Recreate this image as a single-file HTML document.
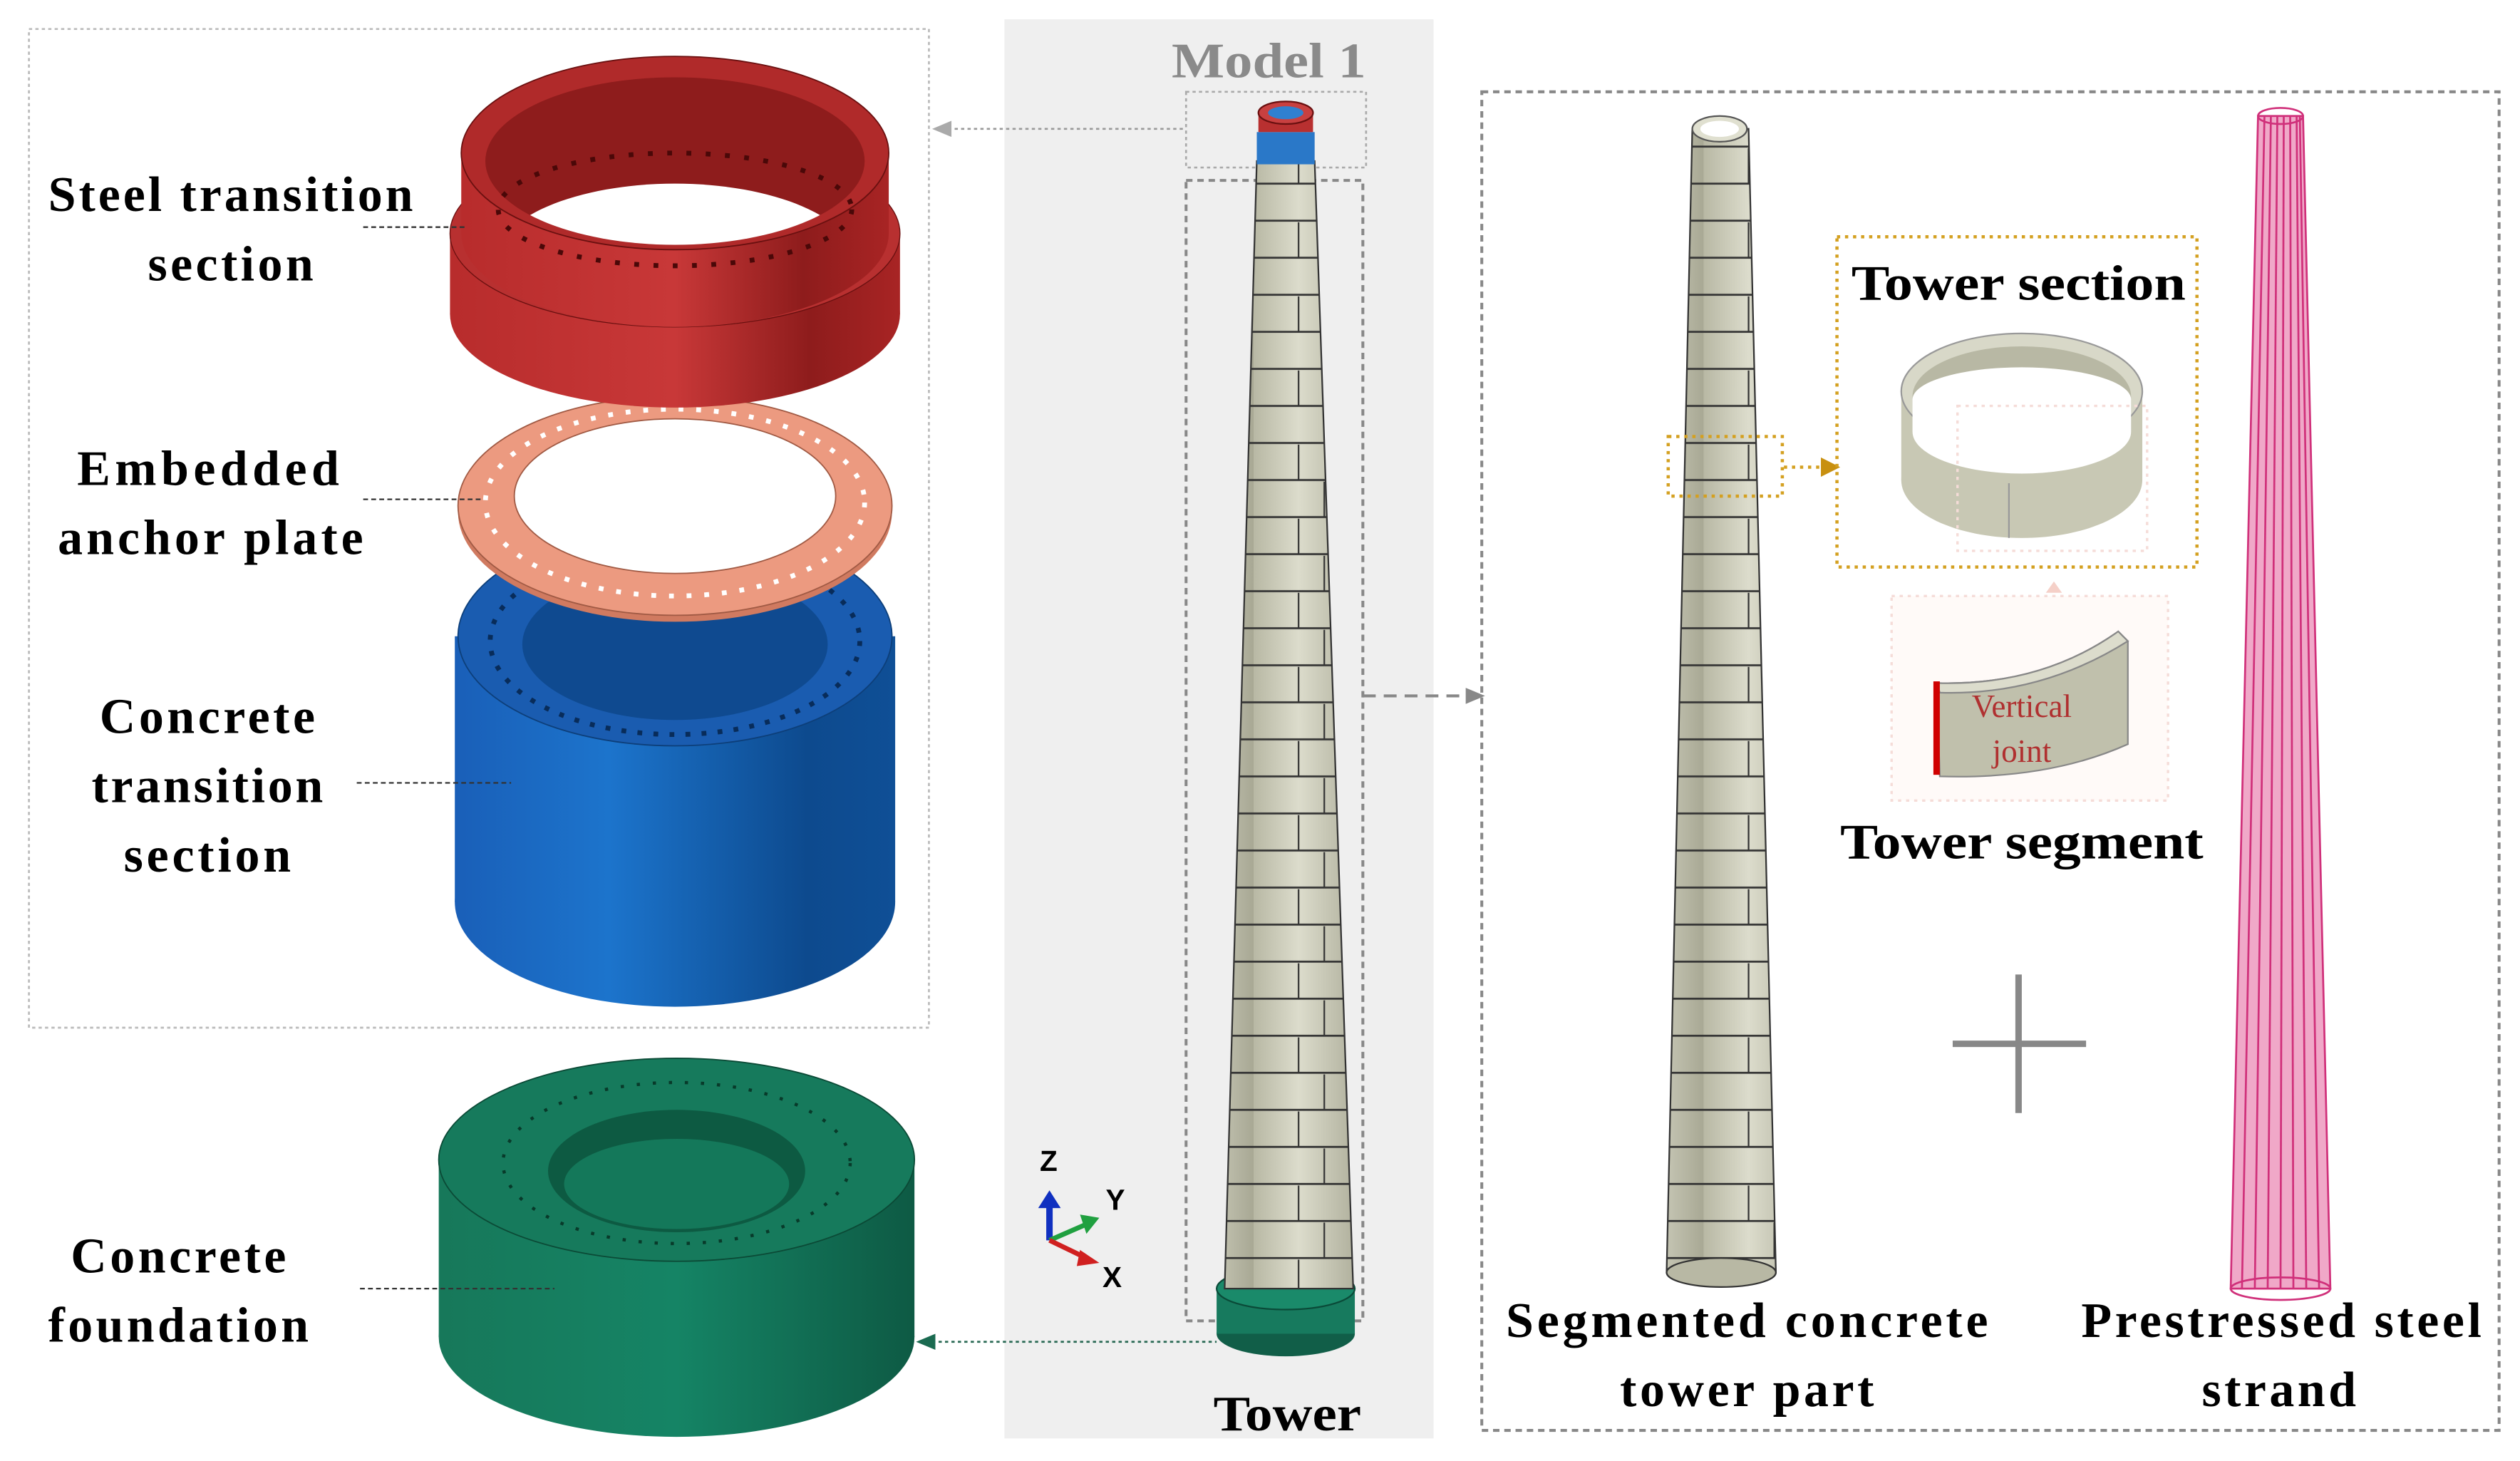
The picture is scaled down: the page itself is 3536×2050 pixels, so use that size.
<!DOCTYPE html>
<html><head><meta charset="utf-8"><style>
html,body{margin:0;padding:0;background:#fff;}
svg{display:block;}
text{font-family:"Liberation Serif",serif;font-weight:bold;fill:#000;}
</style></head><body>
<svg width="3536" height="2050" viewBox="0 0 1568 907" preserveAspectRatio="none" xmlns="http://www.w3.org/2000/svg">
<defs>
<linearGradient id="red" x1="0" x2="1"><stop offset="0" stop-color="#b82c2c"/><stop offset="0.5" stop-color="#c83838"/><stop offset="0.8" stop-color="#8e1c1c"/><stop offset="1" stop-color="#a82424"/></linearGradient>
<linearGradient id="blue" x1="0" x2="1"><stop offset="0" stop-color="#1a5fb8"/><stop offset="0.35" stop-color="#1c74cc"/><stop offset="0.8" stop-color="#0d4a8e"/><stop offset="1" stop-color="#0f4f96"/></linearGradient>
<linearGradient id="green" x1="0" x2="1"><stop offset="0" stop-color="#17785a"/><stop offset="0.5" stop-color="#158465"/><stop offset="1" stop-color="#0e5a44"/></linearGradient>
<linearGradient id="conc" x1="0" x2="1"><stop offset="0" stop-color="#b8b8a4"/><stop offset="0.4" stop-color="#dcdccc"/><stop offset="1" stop-color="#a8a894"/></linearGradient>
<pattern id="bricks" width="70" height="46" patternUnits="userSpaceOnUse" x="10">
<rect width="70" height="46" fill="url(#conc)"/>
<line x1="0" y1="22" x2="70" y2="22" stroke="#333" stroke-width="1.2"/>
<line x1="0" y1="45" x2="70" y2="45" stroke="#333" stroke-width="1.2"/>
<line x1="28" y1="0" x2="28" y2="22" stroke="#333" stroke-width="1"/>
<line x1="44" y1="23" x2="44" y2="45" stroke="#333" stroke-width="1"/>
</pattern>
<clipPath id="redIn"><ellipse cx="420" cy="100" rx="118" ry="52"/></clipPath>
</defs>

<rect x="18" y="18" width="560" height="620" fill="none" stroke="#bbb" stroke-width="1.2" stroke-dasharray="2,2"/>

<ellipse cx="420" cy="560" rx="137" ry="65" fill="url(#blue)"/>
<rect x="283" y="395" width="274" height="165" fill="url(#blue)"/>
<ellipse cx="420" cy="395" rx="135" ry="68" fill="#1a5cb0" stroke="#0d3f7a" stroke-width="0.8"/>
<ellipse cx="420" cy="400" rx="95" ry="47" fill="#0f4a90"/>
<ellipse cx="420" cy="398" rx="115" ry="58" fill="none" stroke="#082c5a" stroke-width="3" stroke-dasharray="3,7"/>

<ellipse cx="420" cy="318" rx="135" ry="68" fill="#d07a60"/>
<ellipse cx="420" cy="314" rx="135" ry="68" fill="#ec9a80" stroke="#a05a44" stroke-width="0.8"/>
<ellipse cx="420" cy="308" rx="100" ry="48" fill="#fff" stroke="#a05a44" stroke-width="0.8"/>
<ellipse cx="420" cy="312" rx="118" ry="58" fill="none" stroke="#fff" stroke-width="3" stroke-dasharray="3,8"/>

<ellipse cx="420" cy="195" rx="140" ry="58" fill="url(#red)"/>
<rect x="280" y="145" width="280" height="50" fill="url(#red)"/>
<ellipse cx="420" cy="145" rx="140" ry="58" fill="#b83030" stroke="#6a1010" stroke-width="0.6"/>
<path d="M287,95 L287,145 A133,58 0 0 0 553,145 L553,95 Z" fill="url(#red)"/>
<ellipse cx="420" cy="95" rx="133" ry="60" fill="#b02a2a" stroke="#6a1010" stroke-width="0.8"/>
<ellipse cx="420" cy="100" rx="118" ry="52" fill="#8e1c1c"/>
<ellipse cx="420" cy="162" rx="112" ry="48" fill="#fff" clip-path="url(#redIn)"/>
<ellipse cx="420" cy="130" rx="110" ry="35" fill="none" stroke="#4a0808" stroke-width="3" stroke-dasharray="3,9"/>

<ellipse cx="421" cy="830" rx="148" ry="62" fill="url(#green)"/>
<rect x="273" y="720" width="296" height="110" fill="url(#green)"/>
<ellipse cx="421" cy="720" rx="148" ry="63" fill="#167a5c" stroke="#0b4a36" stroke-width="0.8"/>
<ellipse cx="421" cy="727" rx="80" ry="38" fill="#0d5a42"/>
<ellipse cx="421" cy="735" rx="70" ry="28" fill="#14785a"/>
<ellipse cx="421" cy="722" rx="108" ry="50" fill="none" stroke="#083a2a" stroke-width="2" stroke-dasharray="2,8"/>

<g font-size="31" lengthAdjust="spacingAndGlyphs">
<text x="30" y="131" textLength="227">Steel transition</text>
<text x="92" y="174" textLength="103">section</text>
<text x="48" y="301" textLength="163">Embedded</text>
<text x="36" y="344" textLength="190">anchor plate</text>
<text x="62" y="455" textLength="134">Concrete</text>
<text x="57" y="498" textLength="144">transition</text>
<text x="77" y="541" textLength="104">section</text>
<text x="44" y="790" textLength="134">Concrete</text>
<text x="30" y="833" textLength="162">foundation</text>
</g>
<g stroke="#333" stroke-width="1" stroke-dasharray="3,2">
<line x1="226" y1="141" x2="290" y2="141"/>
<line x1="226" y1="310" x2="300" y2="310"/>
<line x1="222" y1="486" x2="318" y2="486"/>
<line x1="224" y1="800" x2="345" y2="800"/>
</g>

<rect x="625" y="12" width="267" height="881" fill="#efefef"/>
<text x="729" y="48" font-size="31" textLength="121" lengthAdjust="spacingAndGlyphs" style="fill:#8a8a8a">Model 1</text>
<rect x="738" y="57" width="112" height="47" fill="none" stroke="#aaa" stroke-width="1.2" stroke-dasharray="2,2"/>
<rect x="738" y="112" width="110" height="708" fill="none" stroke="#888" stroke-width="1.8" stroke-dasharray="4,3"/>
<ellipse cx="800" cy="828" rx="43" ry="14" fill="#115e48"/>
<rect x="757" y="800" width="86" height="28" fill="#177a5e"/>
<ellipse cx="800" cy="800" rx="43" ry="13" fill="#1a8a6a" stroke="#0a4a38" stroke-width="1"/>
<polygon points="782,100 818,100 842,800 762,800" fill="url(#bricks)" stroke="#333" stroke-width="1"/>
<rect x="782" y="82" width="36" height="20" fill="#2a78c8"/>
<rect x="783" y="70" width="34" height="12" fill="#b83030"/>
<ellipse cx="800" cy="70" rx="17" ry="7" fill="#c84040" stroke="#6a1010"/>
<ellipse cx="800" cy="70" rx="11" ry="4" fill="#3080d0"/>
<text x="755" y="888" font-size="31" textLength="92" lengthAdjust="spacingAndGlyphs">Tower</text>
<text x="647" y="727" font-size="18" style="font-family:'Liberation Sans',sans-serif">Z</text>
<text x="688" y="751" font-size="18" style="font-family:'Liberation Sans',sans-serif">Y</text>
<text x="686" y="799" font-size="18" style="font-family:'Liberation Sans',sans-serif">X</text>
<line x1="653" y1="770" x2="653" y2="747" stroke="#1030c0" stroke-width="4"/>
<polygon points="646,750 653,739 660,750" fill="#1030c0"/>
<line x1="653" y1="770" x2="676" y2="760" stroke="#20a040" stroke-width="3"/>
<polygon points="672,754 684,756 676,766" fill="#20a040"/>
<line x1="653" y1="770" x2="678" y2="782" stroke="#d02020" stroke-width="3"/>
<polygon points="672,776 684,784 670,786" fill="#d02020"/>

<line x1="590" y1="80" x2="738" y2="80" stroke="#999" stroke-width="1.2" stroke-dasharray="2,2"/>
<polygon points="580,80 592,75 592,85" fill="#aaa"/>
<line x1="580" y1="833" x2="757" y2="833" stroke="#2a6a55" stroke-width="1.2" stroke-dasharray="2,2"/>
<polygon points="570,833 582,828 582,838" fill="#1a6a50"/>
<line x1="848" y1="432" x2="915" y2="432" stroke="#888" stroke-width="1.8" stroke-dasharray="8,5"/>
<polygon points="924,432 912,427 912,437" fill="#888"/>

<rect x="922" y="57" width="633" height="831" fill="none" stroke="#888" stroke-width="1.8" stroke-dasharray="4,3"/>

<polygon points="1053,80 1088,80 1105,790 1037,790" fill="url(#bricks)" stroke="#333" stroke-width="1"/>
<ellipse cx="1071" cy="790" rx="34" ry="9" fill="#b8b8a4" stroke="#333"/>
<ellipse cx="1070" cy="80" rx="17" ry="8" fill="#e0e0d0" stroke="#555"/>
<ellipse cx="1070" cy="80" rx="12" ry="5" fill="#fff"/>
<rect x="1038" y="271" width="71" height="37" fill="none" stroke="#d4a020" stroke-width="2" stroke-dasharray="2,3"/>
<line x1="1110" y1="290" x2="1135" y2="290" stroke="#d4a020" stroke-width="2" stroke-dasharray="2,3"/>
<polygon points="1145,290 1133,284 1133,296" fill="#c89010"/>
<rect x="1143" y="147" width="224" height="205" fill="none" stroke="#d4a020" stroke-width="2" stroke-dasharray="2,3"/>
<text x="1152" y="186" font-size="31" textLength="208" lengthAdjust="spacingAndGlyphs">Tower section</text>
<ellipse cx="1258" cy="298" rx="75" ry="36" fill="#c8c8b4"/>
<rect x="1183" y="243" width="150" height="55" fill="#c8c8b4"/>
<ellipse cx="1258" cy="243" rx="75" ry="36" fill="#d8d8c8" stroke="#999"/>
<ellipse cx="1258" cy="246" rx="68" ry="31" fill="#b8b8a4"/>
<path d="M1190,268 A68,26 0 0 0 1326,268 L1326,248 A68,20 0 0 0 1190,248 Z" fill="#fff"/>
<line x1="1250" y1="300" x2="1250" y2="334" stroke="#999"/>
<rect x="1218" y="252" width="118" height="90" fill="none" stroke="#f5dcd8" stroke-width="1.5" stroke-dasharray="2,3"/>
<rect x="1177" y="370" width="172" height="127" fill="#fffaf8" stroke="#f5dcd8" stroke-width="1.5" stroke-dasharray="2,3"/>
<polygon points="1278,361 1273,368 1283,368" fill="#f5d0c8"/>
<path d="M1205,424 Q1270,426 1318,392 L1324,398 L1324,462 Q1275,484 1207,482 Z" fill="#c0c0ac" stroke="#888"/>
<path d="M1205,424 Q1270,426 1318,392 L1324,398 Q1270,432 1207,430 Z" fill="#dcdccc" stroke="#888"/>
<rect x="1203" y="423" width="4" height="58" fill="#d00000"/>
<text x="1258" y="445" font-size="20" style="font-weight:normal;fill:#b03030" text-anchor="middle">Vertical</text>
<text x="1258" y="473" font-size="20" style="font-weight:normal;fill:#b03030" text-anchor="middle">joint</text>
<text x="1145" y="533" font-size="31" textLength="226" lengthAdjust="spacingAndGlyphs">Tower segment</text>
<line x1="1215" y1="648" x2="1298" y2="648" stroke="#888" stroke-width="4"/>
<line x1="1256" y1="605" x2="1256" y2="691" stroke="#888" stroke-width="4"/>
<g stroke="#d0307a" stroke-width="1.2" fill="none">
<polygon points="1405,72 1433,72 1450,800 1388,800" fill="#f0a8c8"/>
<line x1="1409" y1="72" x2="1395" y2="800"/><line x1="1413" y1="72" x2="1403" y2="800"/>
<line x1="1417" y1="72" x2="1411" y2="800"/><line x1="1421" y1="72" x2="1419" y2="800"/>
<line x1="1425" y1="72" x2="1427" y2="800"/><line x1="1429" y1="72" x2="1435" y2="800"/>
<line x1="1431" y1="72" x2="1443" y2="800"/>
<ellipse cx="1419" cy="72" rx="14" ry="5"/>
<ellipse cx="1419" cy="800" rx="31" ry="7"/>
</g>
<g font-size="31" lengthAdjust="spacingAndGlyphs">
<text x="937" y="830" textLength="300">Segmented concrete</text>
<text x="1008" y="873" textLength="158">tower part</text>
<text x="1295" y="830" textLength="249">Prestressed steel</text>
<text x="1370" y="873" textLength="96">strand</text>
</g>
</svg>
</body></html>
